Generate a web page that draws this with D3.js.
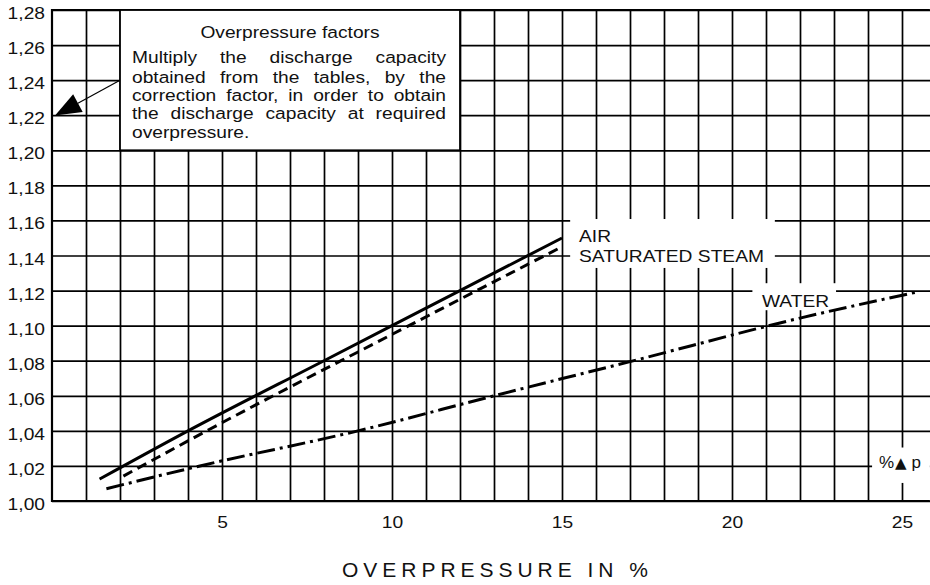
<!DOCTYPE html>
<html>
<head>
<meta charset="utf-8">
<script src="https://cdn.jsdelivr.net/npm/d3@7"></script>
<style>
  body { margin: 0; background: #fff; }
  svg { display: block; font-family: "Liberation Sans", Arial, Helvetica, sans-serif; }
</style>
</head>
<body>
<div id="chart"></div>
<script>
// tick values
var yTicks = [1.00, 1.02, 1.04, 1.06, 1.08, 1.10, 1.12, 1.14, 1.16, 1.18, 1.20, 1.22, 1.24, 1.26, 1.28];
var xGrid = d3.range(1, 26);
var xLabels = [5, 10, 15, 20, 25];

// curves (overpressure %, factor)
var airX = [1.4, 4, 8, 12, 15];
var airY = [1.0125, 1.04, 1.08, 1.12, 1.15];
var steamX = [2.1, 4.55, 10, 15];
var steamY = [1.0142, 1.04, 1.095, 1.145];
var waterX = [1.6, 4.35, 9, 13, 17, 22, 25.4];
var waterY = [1.007, 1.02, 1.04, 1.06, 1.0795, 1.1043, 1.119];

var noteTitle = "Overpressure factors";
var noteLines = [
    "Multiply the discharge capacity",
    "obtained from the tables, by the",
    "correction factor, in order to obtain",
    "the discharge capacity at required",
    "overpressure."
];

var svgWidth = 930, svgHeight = 585;
var margin = { top: 10, right: 0, bottom: 84, left: 52 };
var width = svgWidth - margin.left - margin.right;
var height = svgHeight - margin.top - margin.bottom;
var stretch = 1.13;   // the scanned lettering is wider than Arial

var svg = d3.select("#chart").append("svg")
    .attr("width", svgWidth)
    .attr("height", svgHeight);

var x = d3.scaleLinear()
    .domain([0, width / 34])
    .range([margin.left, margin.left + width]);

var y = d3.scaleLinear()
    .domain([1.00, 1.28])
    .range([margin.top + height, margin.top]);

var comma = d3.formatLocale({ decimal: ",", thousands: ".", grouping: [3], currency: ["", ""] });

function widen(sel, k) {
    sel.each(function() {
        var w = this.getComputedTextLength();
        d3.select(this).attr("textLength", w * k).attr("lengthAdjust", "spacingAndGlyphs");
    });
}

// grid
var gridY = svg.append("g")
    .attr("transform", "translate(" + margin.left + ",0)")
    .call(d3.axisLeft(y).tickValues(yTicks).tickSize(-width).tickFormat(""));
var gridX = svg.append("g")
    .attr("transform", "translate(0," + (margin.top + height) + ")")
    .call(d3.axisBottom(x).tickValues(xGrid).tickSize(-height).tickFormat(""));
svg.selectAll(".domain").remove();
svg.selectAll(".tick line").attr("stroke", "#000").attr("stroke-width", 1.7);

// tick labels
var yLab = svg.append("g")
    .attr("transform", "translate(" + margin.left + ",0)")
    .call(d3.axisLeft(y).tickValues(yTicks).tickSize(0).tickPadding(7).tickFormat(comma.format(".2f")));
var xLab = svg.append("g")
    .attr("transform", "translate(0," + (margin.top + height) + ")")
    .call(d3.axisBottom(x).tickValues(xLabels).tickSize(0).tickPadding(15).tickFormat(d3.format("d")));
[yLab, xLab].forEach(function(g) {
    g.select(".domain").remove();
    g.selectAll("text").attr("font-size", 17).attr("fill", "#111");
    g.attr("font-family", null);
    widen(g.selectAll("text"), stretch);
});
yLab.selectAll("text").attr("dy", "0.5em");

// white gaps in the grid behind the curve labels
svg.append("rect").attr("x", x(15.24)).attr("y", y(1.1608))
    .attr("width", x(21.26) - x(15.24)).attr("height", y(1.1329) - y(1.1608)).attr("fill", "#fff");
svg.append("rect").attr("x", x(20.6)).attr("y", y(1.1242))
    .attr("width", x(23.06) - x(20.6)).attr("height", y(1.1088) - y(1.1242)).attr("fill", "#fff");
svg.append("rect").attr("x", x(24.12)).attr("y", y(1.0305))
    .attr("width", x(25.82) - x(24.12)).attr("height", y(1.0103) - y(1.0305)).attr("fill", "#fff");

function addLabel(txt, px, py) {
    var t = svg.append("text").attr("x", px).attr("y", py)
        .attr("font-size", 17).attr("fill", "#111").text(txt);
    widen(t, stretch);
    return t;
}
addLabel("AIR", x(15) + 17, y(1.15) + 4);
addLabel("SATURATED STEAM", x(15) + 17, y(1.14) + 6);
addLabel("WATER", x(20.88), y(1.1106));

var dp = svg.append("text").attr("x", x(24.32)).attr("y", y(1.0188))
    .attr("font-size", 17).attr("fill", "#111");
dp.append("tspan").text("%");
dp.append("tspan").attr("dx", 1).attr("font-size", 15).attr("font-family", "DejaVu Sans").text("▲");
dp.append("tspan").attr("dx", 5).text("p");

// curves
var line = d3.line()
    .x(function(d) { return x(d[0]); })
    .y(function(d) { return y(d[1]); })
    .curve(d3.curveMonotoneX);

var series = [
    { xs: airX, ys: airY, dash: null },
    { xs: steamX, ys: steamY, dash: "10,6" },
    { xs: waterX, ys: waterY, dash: "18,5,3,5" }
];
svg.append("g").selectAll("path")
    .data(series)
    .enter().append("path")
    .attr("d", function(s) { return line(d3.zip(s.xs, s.ys)); })
    .attr("fill", "none")
    .attr("stroke", "#000")
    .attr("stroke-width", 3)
    .attr("stroke-dasharray", function(s) { return s.dash; });

// frame
svg.append("path")
    .attr("d", "M" + x(25.82) + "," + y(1.28) + "H" + x(0) + "V" + y(1.00) + "H" + x(25.82))
    .attr("fill", "none").attr("stroke", "#000").attr("stroke-width", 2.2);

// note box with arrow
svg.append("rect")
    .attr("x", x(2)).attr("y", y(1.28))
    .attr("width", x(12) - x(2)).attr("height", y(1.20) - y(1.28))
    .attr("fill", "#fff").attr("stroke", "#000").attr("stroke-width", 1.8);

var p0 = [x(2), y(1.2399)], p1 = [x(0.09), y(1.2198)];
var dx = p1[0] - p0[0], dy = p1[1] - p0[1], len = Math.sqrt(dx * dx + dy * dy);
var ux = dx / len, uy = dy / len, headLen = 26, headW = 10;
var bx = p1[0] - ux * headLen, by = p1[1] - uy * headLen;
svg.append("line")
    .attr("x1", p0[0]).attr("y1", p0[1]).attr("x2", bx).attr("y2", by)
    .attr("stroke", "#000").attr("stroke-width", 1.2);
svg.append("path")
    .attr("d", "M" + p1[0] + "," + p1[1] +
        "L" + (bx - uy * headW) + "," + (by + ux * headW) +
        "L" + (bx + uy * headW) + "," + (by - ux * headW) + "Z")
    .attr("fill", "#000");

var noteLeft = x(2) + 12, noteWidth = 314;
var note = svg.append("g")
    .attr("transform", "translate(" + noteLeft + ",0) scale(" + stretch + ",1)")
    .attr("font-size", 17).attr("fill", "#111");
note.append("text")
    .attr("x", ((x(2) + x(12)) / 2 - noteLeft) / stretch)
    .attr("y", 38)
    .attr("text-anchor", "middle")
    .text(noteTitle);
var baselines = [63, 83, 101, 119, 138];
noteLines.forEach(function(t, i) {
    var el = note.append("text").attr("x", 0).attr("y", baselines[i]).text(t);
    if (i < noteLines.length - 1) {
        var gaps = t.split(" ").length - 1;
        var w = el.node().getComputedTextLength();
        el.attr("word-spacing", (noteWidth / stretch - w) / gaps);
    }
});

// axis title
svg.append("text")
    .attr("x", 342).attr("y", 577)
    .attr("font-size", 21).attr("fill", "#111")
    .attr("textLength", 306).attr("lengthAdjust", "spacing")
    .text("OVERPRESSURE IN %");
</script>
</body>
</html>
